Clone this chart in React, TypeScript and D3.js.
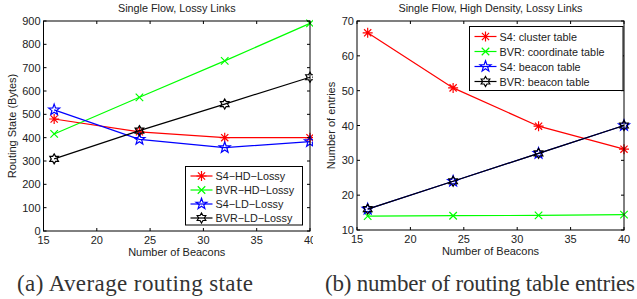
import React from "react";
import * as d3 from "d3";

const beacons = [16, 24, 32, 40];
const xTicks = [15, 20, 25, 30, 35, 40];

// left panel: average routing state (bytes)
const s4HdLossy = [480, 425, 400, 400];
const bvrHdLossy = [416, 573, 729, 890];
const s4LdLossy = [519, 393, 357, 383];
const bvrLdLossy = [309, 430, 544, 659];
const leftTicks = [0, 100, 200, 300, 400, 500, 600, 700, 800, 900];

// right panel: routing table entries
const s4Cluster = [66.6, 50.8, 39.8, 33.2];
const bvrCoord = [14.0, 14.1, 14.2, 14.4];
const s4Beacon = [16, 24, 32, 40];
const bvrBeacon = [16, 24, 32, 40];
const rightTicks = [10, 20, 30, 40, 50, 60, 70];

const FONT = "Liberation Sans, Arial, Helvetica, sans-serif";
const SERIF = "Liberation Serif, Times New Roman, serif";

type Marker = "asterisk" | "cross" | "star" | "hexagram";

function markerPath(kind: Marker, r: number): string {
  if (kind === "cross") {
    const a = r * 0.75;
    return `M${-a},${-a}L${a},${a}M${-a},${a}L${a},${-a}`;
  }
  if (kind === "asterisk") {
    const a = r * 0.72;
    return `M${-r},0L${r},0M0,${-r}L0,${r}M${-a},${-a}L${a},${a}M${-a},${a}L${a},${-a}`;
  }
  if (kind === "star") {
    const pts: string[] = [];
    for (let i = 0; i < 10; i++) {
      const ang = -Math.PI / 2 + (i * Math.PI) / 5;
      const rr = i % 2 === 0 ? r * 1.15 : r * 0.47;
      pts.push(`${(rr * Math.cos(ang)).toFixed(2)},${(rr * Math.sin(ang)).toFixed(2)}`);
    }
    return "M" + pts.join("L") + "Z";
  }
  // hexagram
  const pts: string[] = [];
  for (let i = 0; i < 12; i++) {
    const ang = -Math.PI / 2 + (i * Math.PI) / 6;
    const rr = i % 2 === 0 ? r : r * 0.577;
    pts.push(`${(rr * Math.cos(ang)).toFixed(2)},${(rr * Math.sin(ang)).toFixed(2)}`);
  }
  return "M" + pts.join("L") + "Z";
}

type Series = { name: string; values: number[]; color: string; marker: Marker };

type PanelProps = {
  x0: number;
  x1: number;
  y0: number;
  y1: number;
  yDomain: [number, number];
  yTicks: number[];
  title: string;
  yLabel: string;
  yLabelX: number;
  series: Series[];
  legend: { x: number; y: number; w: number; h: number; rowH: number; first: number };
};

function Panel(p: PanelProps) {
  const x = d3.scaleLinear().domain([15, 40]).range([p.x0, p.x1]);
  const y = d3.scaleLinear().domain(p.yDomain).range([p.y1, p.y0]);
  const line = d3
    .line<number>()
    .x((_, i) => x(beacons[i]))
    .y((d) => y(d));
  const tl = 3;
  const cx = (p.x0 + p.x1) / 2;
  const cy = (p.y0 + p.y1) / 2;
  const lg = p.legend;
  return (
    <g fontFamily={FONT}>
      <text x={cx} y={12} fontSize={10.8} textAnchor="middle" fill="#222">
        {p.title}
      </text>
      {/* series */}
      {p.series.map((s) => (
        <g key={s.name}>
          <path d={line(s.values) || ""} fill="none" stroke={s.color} strokeWidth={1.2} />
          {s.values.map((v, i) => (
            <path
              key={i}
              transform={`translate(${x(beacons[i])},${y(v)})`}
              d={markerPath(s.marker, 5)}
              fill="none"
              stroke={s.color}
              strokeWidth={1.2}
            />
          ))}
        </g>
      ))}
      {/* frame */}
      <rect x={p.x0} y={p.y0} width={p.x1 - p.x0} height={p.y1 - p.y0} fill="none" stroke="#000" strokeWidth={1} />
      {xTicks.map((t) => (
        <g key={"x" + t}>
          <line x1={x(t)} x2={x(t)} y1={p.y1} y2={p.y1 - tl} stroke="#000" />
          <line x1={x(t)} x2={x(t)} y1={p.y0} y2={p.y0 + tl} stroke="#000" />
          <text x={x(t)} y={p.y1 + 13} fontSize={11} textAnchor="middle" fill="#222">
            {t}
          </text>
        </g>
      ))}
      {p.yTicks.map((t) => (
        <g key={"y" + t}>
          <line x1={p.x0} x2={p.x0 + tl} y1={y(t)} y2={y(t)} stroke="#000" />
          <line x1={p.x1} x2={p.x1 - tl} y1={y(t)} y2={y(t)} stroke="#000" />
          <text x={p.x0 - 3} y={y(t) + 4} fontSize={11} textAnchor="end" fill="#222">
            {t}
          </text>
        </g>
      ))}
      <text x={cx} y={p.y1 + 25} fontSize={11} textAnchor="middle" fill="#222">
        Number of Beacons
      </text>
      <text
        transform={`translate(${p.yLabelX},${cy}) rotate(-90)`}
        fontSize={11}
        textAnchor="middle"
        fill="#222"
      >
        {p.yLabel}
      </text>
      {/* legend */}
      <rect x={lg.x} y={lg.y} width={lg.w} height={lg.h} fill="#fff" stroke="#000" strokeWidth={1} />
      {p.series.map((s, i) => {
        const ly = lg.y + lg.first + i * lg.rowH;
        return (
          <g key={"l" + s.name}>
            <line x1={lg.x + 5} x2={lg.x + 27} y1={ly} y2={ly} stroke={s.color} strokeWidth={1.2} />
            <path
              transform={`translate(${lg.x + 16},${ly})`}
              d={markerPath(s.marker, 5)}
              fill="none"
              stroke={s.color}
              strokeWidth={1.2}
            />
            <text x={lg.x + 30} y={ly + 4} fontSize={10.8} fill="#222">
              {s.name}
            </text>
          </g>
        );
      })}
    </g>
  );
}

export default function App() {
  return (
    <svg width={637} height={299} style={{ position: "absolute", left: 0, top: 0 }}>
      <rect width={637} height={299} fill="#fff" />
      <Panel
        x0={43.5}
        x1={310}
        y0={21}
        y1={231}
        yDomain={[0, 900]}
        yTicks={leftTicks}
        title="Single Flow, Lossy Links"
        yLabel="Routing State (Bytes)"
        yLabelX={16}
        series={[
          { name: "S4\u2212HD\u2212Lossy", values: s4HdLossy, color: "#ff0000", marker: "asterisk" },
          { name: "BVR\u2212HD\u2212Lossy", values: bvrHdLossy, color: "#00ff00", marker: "cross" },
          { name: "S4\u2212LD\u2212Lossy", values: s4LdLossy, color: "#0000ff", marker: "star" },
          { name: "BVR\u2212LD\u2212Lossy", values: bvrLdLossy, color: "#000000", marker: "hexagram" },
        ]}
        legend={{ x: 185.5, y: 166.5, w: 117, h: 58.5, rowH: 14, first: 9.5 }}
      />
      <rect x={313} y={0} width={324} height={260} fill="#fff" />
      <Panel
        x0={357}
        x1={624}
        y0={21}
        y1={230}
        yDomain={[10, 70]}
        yTicks={rightTicks}
        title="Single Flow, High Density, Lossy Links"
        yLabel="Number of entries"
        yLabelX={335}
        series={[
          { name: "S4: cluster table", values: s4Cluster, color: "#ff0000", marker: "asterisk" },
          { name: "BVR: coordinate table", values: bvrCoord, color: "#00ff00", marker: "cross" },
          { name: "S4: beacon table", values: s4Beacon, color: "#0000ff", marker: "star" },
          { name: "BVR: beacon table", values: bvrBeacon, color: "#000000", marker: "hexagram" },
        ]}
        legend={{ x: 469.5, y: 26.5, w: 153.5, h: 64, rowH: 15, first: 10 }}
      />
      <text x={17} y={291} fontFamily={SERIF} fontSize={23} fill="#333" textLength={236} lengthAdjust="spacing">
        (a) Average routing state
      </text>
      <text x={325} y={291} fontFamily={SERIF} fontSize={23} fill="#333" textLength={310} lengthAdjust="spacing">
        (b) number of routing table entries
      </text>
    </svg>
  );
}
